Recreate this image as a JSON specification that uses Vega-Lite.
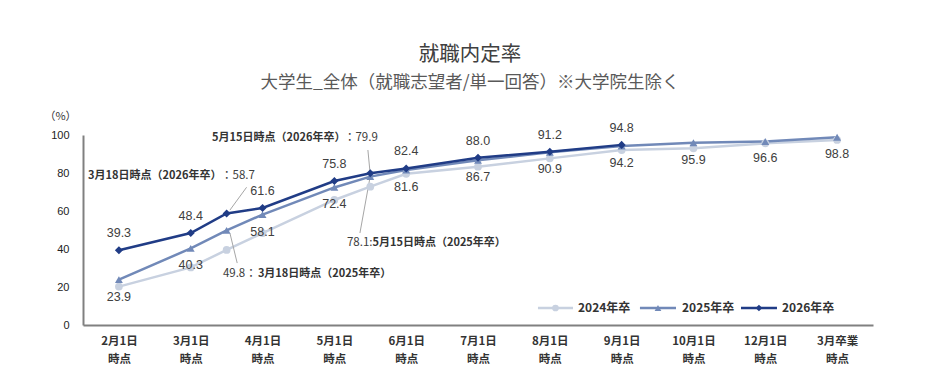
{
  "$schema": "https://vega.github.io/schema/vega-lite/v6.json",
  "width": 790,
  "height": 190,
  "autosize": {"type": "none"},
  "padding": {"left": 83, "top": 135, "right": 60, "bottom": 44},
  "background": "white",
  "config": {"view": {"stroke": null}, "font": "Noto Sans CJK JP"},
  "title": {
    "text": "就職内定率",
    "subtitle": "大学生_全体（就職志望者/単一回答）※大学院生除く",
    "frame": "group",
    "anchor": "middle",
    "dx": -8,
    "offset": 19,
    "fontSize": 20.5,
    "fontWeight": "normal",
    "color": "#404040",
    "font": "Noto Sans CJK JP",
    "subtitleFont": "Noto Sans CJK JP",
    "subtitleFontSize": 17.5,
    "subtitleColor": "#595959",
    "subtitlePadding": 8
  },
  "datasets": {
    "rates": [
      {"date": "2月1日", "t": 0, "series": "2024年卒", "rate": 20.2},
      {"date": "3月1日", "t": 1, "series": "2024年卒", "rate": 30.3},
      {"date": "3月18日", "t": 1.5, "series": "2024年卒", "rate": 39.5},
      {"date": "4月1日", "t": 2, "series": "2024年卒", "rate": 48.4},
      {"date": "5月1日", "t": 3, "series": "2024年卒", "rate": 65.8},
      {"date": "5月15日", "t": 3.5, "series": "2024年卒", "rate": 72.8},
      {"date": "6月1日", "t": 4, "series": "2024年卒", "rate": 79.6},
      {"date": "7月1日", "t": 5, "series": "2024年卒", "rate": 83.3},
      {"date": "8月1日", "t": 6, "series": "2024年卒", "rate": 87.7},
      {"date": "9月1日", "t": 7, "series": "2024年卒", "rate": 92.1},
      {"date": "10月1日", "t": 8, "series": "2024年卒", "rate": 93.0},
      {"date": "12月1日", "t": 9, "series": "2024年卒", "rate": 95.6},
      {"date": "3月卒業", "t": 10, "series": "2024年卒", "rate": 97.4},
      {"date": "2月1日", "t": 0, "series": "2025年卒", "rate": 23.9},
      {"date": "3月1日", "t": 1, "series": "2025年卒", "rate": 40.3},
      {"date": "3月18日", "t": 1.5, "series": "2025年卒", "rate": 49.8},
      {"date": "4月1日", "t": 2, "series": "2025年卒", "rate": 58.1},
      {"date": "5月1日", "t": 3, "series": "2025年卒", "rate": 72.4},
      {"date": "5月15日", "t": 3.5, "series": "2025年卒", "rate": 78.1},
      {"date": "6月1日", "t": 4, "series": "2025年卒", "rate": 81.6},
      {"date": "7月1日", "t": 5, "series": "2025年卒", "rate": 86.7},
      {"date": "8月1日", "t": 6, "series": "2025年卒", "rate": 90.9},
      {"date": "9月1日", "t": 7, "series": "2025年卒", "rate": 94.2},
      {"date": "10月1日", "t": 8, "series": "2025年卒", "rate": 95.9},
      {"date": "12月1日", "t": 9, "series": "2025年卒", "rate": 96.6},
      {"date": "3月卒業", "t": 10, "series": "2025年卒", "rate": 98.8},
      {"date": "2月1日", "t": 0, "series": "2026年卒", "rate": 39.3},
      {"date": "3月1日", "t": 1, "series": "2026年卒", "rate": 48.4},
      {"date": "3月18日", "t": 1.5, "series": "2026年卒", "rate": 58.7},
      {"date": "4月1日", "t": 2, "series": "2026年卒", "rate": 61.6},
      {"date": "5月1日", "t": 3, "series": "2026年卒", "rate": 75.8},
      {"date": "5月15日", "t": 3.5, "series": "2026年卒", "rate": 79.9},
      {"date": "6月1日", "t": 4, "series": "2026年卒", "rate": 82.4},
      {"date": "7月1日", "t": 5, "series": "2026年卒", "rate": 88.0},
      {"date": "8月1日", "t": 6, "series": "2026年卒", "rate": 91.2},
      {"date": "9月1日", "t": 7, "series": "2026年卒", "rate": 94.8}
    ],
    "notesBold": [
      {"text": "3月18日時点（2026年卒）", "t": -0.431, "rate": 78.4},
      {"text": "5月15日時点（2026年卒）", "t": 1.297, "rate": 98.4},
      {"text": "5月15日時点（2025年卒）", "t": 3.53, "rate": 43.2},
      {"text": "3月18日時点（2025年卒）", "t": 1.935, "rate": 26.8}
    ],
    "notesPlain": [
      {"text": "：58.7", "t": 1.422, "rate": 78.4},
      {"text": "：79.9", "t": 3.133, "rate": 98.4},
      {"text": "78.1:", "t": 3.175, "rate": 43.2},
      {"text": "49.8：", "t": 1.448, "rate": 26.8}
    ],
    "leaders": [
      {"t": 1.778, "rate": 72.5, "t2": 1.546, "rate2": 60.5},
      {"t": 3.467, "rate": 92.1, "t2": 3.495, "rate2": 81.0},
      {"t": 3.495, "rate": 77.4, "t2": 3.356, "rate2": 48.4},
      {"t": 1.546, "rate": 48.3, "t2": 1.647, "rate2": 32.6}
    ],
    "legendItems": [
      {"series": "2024年卒", "t": 5.835, "t2": 6.323, "tm": 6.079, "tl": 6.392, "rate": 8.95},
      {"series": "2025年卒", "t": 7.255, "t2": 7.757, "tm": 7.506, "tl": 7.841, "rate": 8.95},
      {"series": "2026年卒", "t": 8.662, "t2": 9.163, "tm": 8.912, "tl": 9.233, "rate": 8.95}
    ]
  },
  "encoding": {
    "x": {
      "field": "t", "type": "quantitative",
      "scale": {"domain": [-0.5, 10.5], "nice": false, "zero": false},
      "axis": {
        "title": null,
        "values": [0, 1, 2, 3, 4, 5, 6, 7, 8, 9, 10],
        "labelExpr": "[['2月1日','時点'],['3月1日','時点'],['4月1日','時点'],['5月1日','時点'],['6月1日','時点'],['7月1日','時点'],['8月1日','時点'],['9月1日','時点'],['10月1日','時点'],['12月1日','時点'],['3月卒業','時点']][datum.value]",
        "grid": false, "ticks": false,
        "domainColor": "#808080", "domainWidth": 2,
        "labelFont": "Noto Sans CJK JP", "labelFontSize": 11.5, "labelFontWeight": "bold",
        "labelColor": "#333333", "labelPadding": 10, "labelLineHeight": 18.5,
        "labelBaseline": "top", "labelFlush": false, "labelOverlap": false
      }
    },
    "y": {
      "field": "rate", "type": "quantitative",
      "scale": {"domain": [0, 100], "nice": false},
      "axis": {
        "title": "（%）", "titleAngle": 0, "titleX": -23, "titleY": -19,
        "titleAlign": "center", "titleBaseline": "middle",
        "titleFont": "Noto Sans CJK JP", "titleFontSize": 11, "titleFontWeight": "normal", "titleColor": "#333333",
        "values": [0, 20, 40, 60, 80, 100],
        "grid": false, "ticks": false,
        "domainColor": "#808080", "domainWidth": 2,
        "labelFont": "Liberation Sans", "labelFontSize": 11, "labelColor": "#222222",
        "labelPadding": 14, "labelOverlap": false, "labelFlush": false
      }
    }
  },
  "layer": [
    {
      "data": {"name": "rates"},
      "mark": {"type": "line", "strokeWidth": 2.5},
      "encoding": {
        "color": {
          "field": "series", "type": "nominal",
          "scale": {"domain": ["2024年卒", "2025年卒", "2026年卒"], "range": ["#c8d1e0", "#7189b8", "#203c86"]},
          "legend": null
        }
      }
    },
    {
      "data": {"name": "leaders"},
      "mark": {"type": "rule", "color": "#a6a6a6", "strokeWidth": 1},
      "encoding": {
        "x2": {"field": "t2"},
        "y2": {"field": "rate2"}
      }
    },
    {
      "data": {"name": "rates"},
      "mark": {"type": "point", "filled": true, "opacity": 1},
      "encoding": {
        "color": {"field": "series", "type": "nominal", "legend": null},
        "shape": {
          "field": "series", "type": "nominal",
          "scale": {"domain": ["2024年卒", "2025年卒", "2026年卒"], "range": ["circle", "triangle-up", "diamond"]},
          "legend": null
        },
        "size": {
          "field": "series", "type": "nominal",
          "scale": {"domain": ["2024年卒", "2025年卒", "2026年卒"], "range": [60, 65, 55]},
          "legend": null
        }
      }
    },
    {
      "data": {"name": "rates"},
      "transform": [{"filter": "datum.series == '2026年卒' && datum.t % 1 == 0"}],
      "mark": {"type": "text", "dy": -17, "font": "Liberation Sans", "fontSize": 12.5, "color": "#404040"},
      "encoding": {
        "text": {"field": "rate", "type": "quantitative", "format": ".1f"}
      }
    },
    {
      "data": {"name": "rates"},
      "transform": [{"filter": "datum.series == '2025年卒' && datum.t % 1 == 0"}],
      "mark": {"type": "text", "dy": 17, "font": "Liberation Sans", "fontSize": 12.5, "color": "#404040"},
      "encoding": {
        "text": {"field": "rate", "type": "quantitative", "format": ".1f"}
      }
    },
    {
      "data": {"name": "notesBold"},
      "mark": {"type": "text", "align": "left", "baseline": "middle", "font": "Noto Sans CJK JP", "fontSize": 11, "fontWeight": "bold", "color": "#333333"},
      "encoding": {
        "text": {"field": "text"}
      }
    },
    {
      "data": {"name": "notesPlain"},
      "mark": {"type": "text", "align": "left", "baseline": "middle", "font": "Noto Sans CJK JP", "fontSize": 11.5, "color": "#404040"},
      "encoding": {
        "text": {"field": "text"}
      }
    },
    {
      "data": {"name": "legendItems"},
      "mark": {"type": "rule", "strokeWidth": 2.5},
      "encoding": {
        "x2": {"field": "t2"},
        "color": {"field": "series", "type": "nominal", "legend": null}
      }
    },
    {
      "data": {"name": "legendItems"},
      "mark": {"type": "point", "filled": true, "opacity": 1, "size": 45},
      "encoding": {
        "x": {"field": "tm", "type": "quantitative"},
        "color": {"field": "series", "type": "nominal", "legend": null},
        "shape": {"field": "series", "type": "nominal", "legend": null}
      }
    },
    {
      "data": {"name": "legendItems"},
      "mark": {"type": "text", "align": "left", "baseline": "middle", "font": "Noto Sans CJK JP", "fontSize": 12, "fontWeight": "bold", "color": "#333333"},
      "encoding": {
        "x": {"field": "tl", "type": "quantitative"},
        "text": {"field": "series"}
      }
    }
  ]
}
